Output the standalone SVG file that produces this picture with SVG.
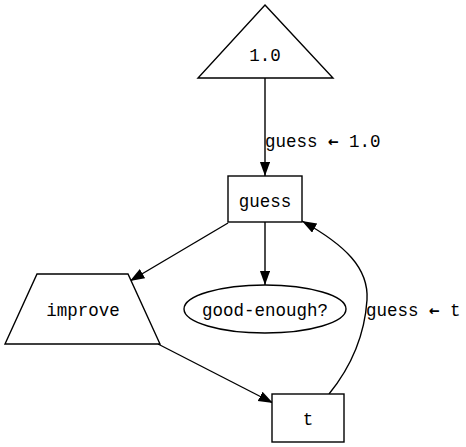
<svg xmlns="http://www.w3.org/2000/svg" width="466" height="447" viewBox="0 0 466 447">
<defs>
<marker id="ah" markerUnits="userSpaceOnUse" markerWidth="16" markerHeight="12" refX="14.5" refY="5.25" orient="auto">
<path d="M0,0 L14.5,5.25 L0,10.5 z" fill="#000"/>
</marker>
<style>
.s{fill:#fff;stroke:#000;stroke-width:1.4}
.e{fill:none;stroke:#000;stroke-width:1.4;marker-end:url(#ah)}
text{font-family:"Liberation Mono","DejaVu Sans Mono",monospace;font-size:17.5px;fill:#000}
.c{text-anchor:middle}
.ar{font-family:"DejaVu Sans Mono",monospace;font-weight:bold}
</style>
</defs>
<rect width="466" height="447" fill="#fff"/>
<g id="connectors">
<path class="e" d="M265,78 L265,176"/>
<path class="e" d="M228,223 L130,281"/>
<path class="e" d="M265,222 L265,285"/>
<path class="e" d="M158,344 L273,403"/>
<path class="e" d="M329,394 C355,362 365,330 367,300 C369,268 345,245 302,221"/>
<text x="265" y="147">guess <tspan class="ar">←</tspan> 1.0</text>
<text x="366" y="316">guess <tspan class="ar">←</tspan> t</text>
</g>
<g id="n-one">
<polygon class="s" points="265,5 333,78 198,78"/>
<text class="c" x="265" y="61">1.0</text>
</g>
<g id="n-guess">
<rect class="s" x="228" y="176" width="74" height="46"/>
<text class="c" x="265" y="207">guess</text>
</g>
<g id="n-improve">
<polygon class="s" points="37,274 128,274 160,344 5,344"/>
<text class="c" x="83" y="316">improve</text>
</g>
<g id="n-good">
<ellipse class="s" cx="265" cy="309" rx="81" ry="24"/>
<text class="c" x="265" y="316">good-enough?</text>
</g>
<g id="n-t">
<rect class="s" x="272" y="394" width="72" height="48"/>
<text class="c" x="308" y="425">t</text>
</g>
</svg>
